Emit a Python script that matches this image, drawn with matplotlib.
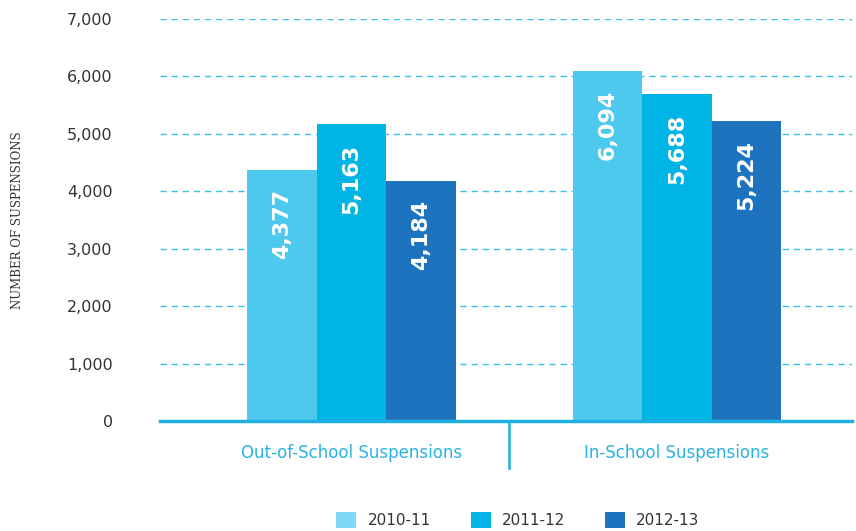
import matplotlib
matplotlib.use("Agg")
import matplotlib.pyplot as plt
from matplotlib.patches import Patch
import numpy as np

categories = ["Out-of-School Suspensions", "In-School Suspensions"]
years = ["2010-11", "2011-12", "2012-13"]
values = {
    "2010-11": [4377, 6094],
    "2011-12": [5163, 5688],
    "2012-13": [4184, 5224],
}
yticks = [0, 1000, 2000, 3000, 4000, 5000, 6000, 7000]

bar_colors = ["#4DC9EE", "#00B4E6", "#1E73BE"]
legend_colors = ["#7FD8F8", "#00B4E6", "#1E73BE"]
grid_color = "#3DBDE8"
axis_color = "#1FB0DE"
label_color = "#2AB3E2"

fig = plt.figure(figsize=(8.56, 5.31), dpi=100)
ax = fig.add_axes([160/856, 1-421/531, 692/856, 402/531])

x = np.arange(len(categories))
w = 0.2135
for i, yr in enumerate(years):
    pos = x + (i - 1) * w
    bars = ax.bar(pos, values[yr], width=w, color=bar_colors[i], zorder=3)
    for b, v in zip(bars, values[yr]):
        ax.text(b.get_x() + b.get_width()/2, v - 330, f"{v:,}", rotation=90,
                ha="center", va="top", color="white", fontsize=16,
                fontweight="bold", zorder=4)

ax.set_xlim(-0.588, 1.538)
ax.set_ylim(0, 7000)
ax.set_yticks(yticks)
ax.set_yticklabels([f"{t:,}" for t in yticks], fontsize=11.5, color="#333333")
ax.tick_params(axis="y", length=0, pad=34)
ax.tick_params(axis="x", length=0)
ax.set_xticks([])
for t in yticks[1:]:
    ax.axhline(t, color=grid_color, lw=1, ls=(0, (4.5, 3.5)), zorder=1)
for s in ["top", "right", "left"]:
    ax.spines[s].set_visible(False)
ax.spines["bottom"].set_color(axis_color)
ax.spines["bottom"].set_linewidth(2.5)
ax.spines["bottom"].set_zorder(5)

# group separator and category labels
ax.plot([0.484, 0.484], [0, -820], color=axis_color, lw=1.8, clip_on=False)
for xi, c in zip(x, categories):
    ax.text(xi, -560, c, ha="center", va="center", color=label_color, fontsize=12)

ax.set_ylabel("NUMBER OF SUSPENSIONS", fontsize=8.5, color="#333333",
              family="DejaVu Serif", labelpad=0)
ax.yaxis.set_label_coords(-136/692, 0.5)

handles = [Patch(facecolor=c, edgecolor="none") for c in legend_colors]
fig.legend(handles, years, loc="center", bbox_to_anchor=(518/856, 1-520/531),
           ncol=3, frameon=False, fontsize=11, handlelength=1.3, handleheight=1.3,
           columnspacing=2.6, handletextpad=0.75, labelcolor="#333333")

fig.savefig("out.png", dpi=100)
